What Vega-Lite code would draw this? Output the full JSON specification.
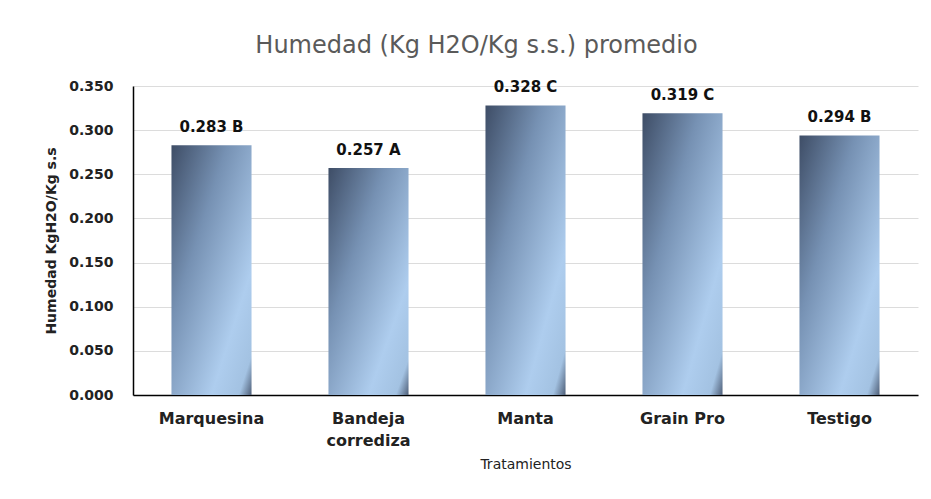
{
  "$schema": "https://vega.github.io/schema/vega-lite/v6.json",
  "autosize": {"type": "none"},
  "width": 785,
  "height": 309,
  "padding": {"left": 133, "top": 86, "right": 13, "bottom": 104},
  "background": "white",
  "config": {
    "view": {"stroke": null},
    "font": "DejaVu Sans"
  },
  "title": {
    "text": "Humedad (Kg H2O/Kg s.s.) promedio",
    "fontSize": 24,
    "fontWeight": "normal",
    "color": "#5a5a5a",
    "font": "DejaVu Sans",
    "anchor": "middle",
    "dx": -49,
    "offset": 21
  },
  "data": {
    "values": [
      {"tratamiento": "Marquesina", "humedad": 0.283, "label": "0.283 B"},
      {"tratamiento": "Bandeja corrediza", "humedad": 0.257, "label": "0.257 A"},
      {"tratamiento": "Manta", "humedad": 0.328, "label": "0.328 C"},
      {"tratamiento": "Grain Pro", "humedad": 0.319, "label": "0.319 C"},
      {"tratamiento": "Testigo", "humedad": 0.294, "label": "0.294 B"}
    ]
  },
  "encoding": {
    "x": {
      "field": "tratamiento",
      "type": "nominal",
      "sort": null,
      "scale": {"paddingInner": 0.49, "paddingOuter": 0.245},
      "axis": {
        "title": "Tratamientos",
        "titleFontSize": 14,
        "titleFontWeight": 500,
        "titleColor": "#222",
        "titlePadding": 9,
        "labelAngle": 0,
        "labelFontSize": 16,
        "labelFontWeight": "bold",
        "labelColor": "#222",
        "labelPadding": 15,
        "labelLineHeight": 22,
        "labelExpr": "datum.label == 'Bandeja corrediza' ? ['Bandeja', 'corrediza'] : datum.label",
        "ticks": false,
        "domainColor": "#000",
        "domainWidth": 1.5
      }
    },
    "y": {
      "field": "humedad",
      "type": "quantitative",
      "scale": {"domain": [0, 0.35], "nice": false},
      "axis": {
        "title": "Humedad KgH2O/Kg s.s",
        "titleFontSize": 14,
        "titleFontWeight": "bold",
        "titleColor": "#222",
        "titlePadding": 10,
        "values": [0, 0.05, 0.1, 0.15, 0.2, 0.25, 0.3, 0.35],
        "format": ".3f",
        "labelFontSize": 14,
        "labelFontWeight": "bold",
        "labelColor": "#222",
        "labelPadding": 20,
        "ticks": false,
        "domainColor": "#000",
        "domainWidth": 1.5,
        "gridColor": "#dcdcdc",
        "gridWidth": 1
      }
    }
  },
  "layer": [
    {
      "mark": {
        "type": "bar",
        "color": {
          "gradient": "linear",
          "x1": 0, "y1": 0, "x2": 1, "y2": 1,
          "stops": [
            {"offset": 0, "color": "#3e4d66"},
            {"offset": 0.35, "color": "#7691b3"},
            {"offset": 0.75, "color": "#aecdee"},
            {"offset": 0.92, "color": "#a3c2e2"},
            {"offset": 1, "color": "#4f5f78"}
          ]
        }
      }
    },
    {
      "mark": {
        "type": "text",
        "baseline": "middle",
        "dy": -18,
        "fontSize": 15,
        "fontWeight": "bold",
        "color": "#111"
      },
      "encoding": {"text": {"field": "label"}}
    }
  ]
}
